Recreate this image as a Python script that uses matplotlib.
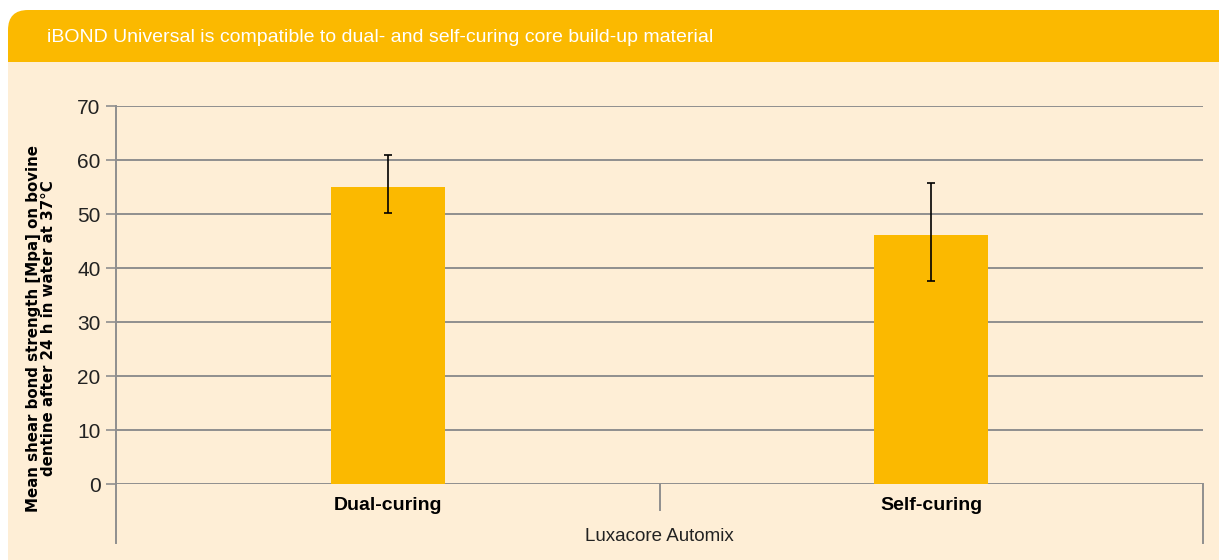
import matplotlib
matplotlib.use("Agg")
import matplotlib.pyplot as plt
from matplotlib.patches import Rectangle, FancyBboxPatch
from matplotlib.lines import Line2D
from matplotlib.transforms import IdentityTransform

# data
categories = ["Dual-curing", "Self-curing"]
means = [55.0, 46.1]
err_low = [4.8, 8.5]
err_high = [5.9, 9.6]
group_label = "Luxacore Automix"
title = "iBOND Universal is compatible to dual- and self-curing core build-up material"
ylabel = "Mean shear bond strength [Mpa] on bovine\ndentine after 24 h in water at 37°C"

orange = "#FBB900"
cream = "#FEEED6"
grey = "#8F8F8F"

W, H = 1219, 560
fig = plt.figure(figsize=(W / 100, H / 100), dpi=100)
fig.patch.set_facecolor("white")

def fx(px):
    return px / W

def fy(py):
    return 1 - py / H

# background panels, drawn in pixel coords (y from bottom)
pix = IdentityTransform()
fig.patches.append(Rectangle((8, 0), W, H - 62, transform=pix,
                             facecolor=cream, edgecolor="none", zorder=-5))
fig.patches.append(FancyBboxPatch((8, H - 62), W + 50, 52,
                                  boxstyle="round,pad=0,rounding_size=20",
                                  transform=pix, facecolor=orange,
                                  edgecolor="none", zorder=-5))
fig.patches.append(Rectangle((8, H - 62), 40, 30, transform=pix,
                             facecolor=orange, edgecolor="none", zorder=-5))
fig.text(fx(47), fy(38), title, color="white", fontsize=14,
         family="Liberation Sans", va="center", ha="left")

ax = fig.add_axes([fx(116), fy(484), fx(1203) - fx(116), fy(106) - fy(484)])
ax.set_facecolor("none")

x = [0, 1]
ax.bar(x, means, width=0.21, color=orange, zorder=2)
ax.errorbar(x, means, yerr=[err_low, err_high], fmt="none", ecolor="black",
            elinewidth=1.2, capsize=3, capthick=1.2, zorder=3)

ax.set_xlim(-0.5, 1.5)
ax.set_ylim(0, 70)
ax.set_yticks(range(0, 71, 10))
ax.yaxis.grid(True, color=grey, linewidth=1.4)
ax.set_axisbelow(True)
for s in ["top", "right", "bottom"]:
    ax.spines[s].set_visible(False)
ax.spines["left"].set_color(grey)
ax.spines["left"].set_linewidth(1.4)
ax.tick_params(axis="y", length=7, width=1.2, color=grey, pad=4, labelsize=15,
               labelcolor="#222222")
for lab in ax.get_yticklabels():
    lab.set_family("Liberation Sans")
ax.set_xticks(x)
ax.set_xticklabels(categories, fontsize=14, fontweight="bold",
                   family="Liberation Sans")
ax.tick_params(axis="x", length=0, pad=9)

# category separators below the axis
t = ax.get_xaxis_transform()
for xx, y0 in [(-0.5, -0.157), (0.5, -0.069), (1.5, -0.157)]:
    ax.add_line(Line2D([xx, xx], [0, y0], transform=t, color=grey, lw=1.4,
                       clip_on=False))
ax.text(0.5, -0.14, group_label, transform=t, ha="center", va="center",
        fontsize=13.5, family="Liberation Sans", color="#222222")

fig.text(fx(41), fy(328), ylabel, rotation=90, ha="center", va="center",
         fontsize=10.8, fontweight="bold", family="DejaVu Sans",
         linespacing=1.05)

fig.savefig("out.png", dpi=100)
